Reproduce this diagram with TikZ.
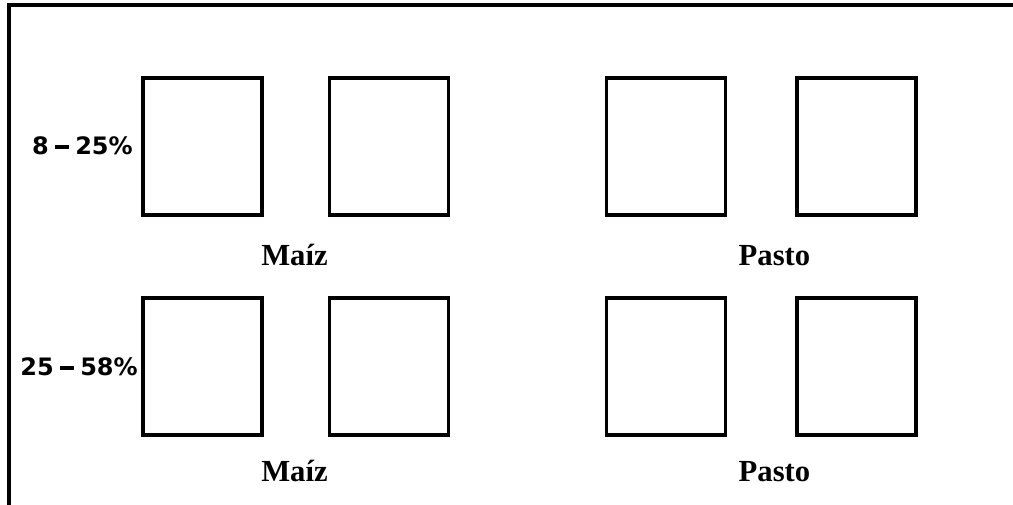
\documentclass[tikz,border=0pt]{standalone}
\usepackage{fontspec}
\newfontfamily\lblsans{DejaVu Sans}
\newfontfamily\lblserif{Liberation Serif}
\newcommand\pctdash{\hspace{4.4pt}\rule[4.4pt]{11pt}{2.8pt}\hspace{4.4pt}}
\begin{document}
\begin{tikzpicture}[x=0.75pt,y=-0.75pt,
  cell/.style={draw=black, line width=2.4pt, fill=white, inner sep=0pt,
    minimum width=89.25pt, minimum height=102.75pt},
  pct/.style={font=\lblsans\bfseries\fontsize{18pt}{21pt}\selectfont, inner sep=0pt, anchor=base east},
  crop/.style={font=\lblserif\bfseries\fontsize{23pt}{26pt}\selectfont, inner sep=0pt, anchor=base},
  frameline/.style={line width=3pt, line join=miter}]
\useasboundingbox (0,0) rectangle (1013,505);
\coordinate (fbl) at (9,506);
\coordinate (ftl) at (9,5);
\coordinate (ftr) at (1014,5);
\draw[frameline] (fbl) -- (ftl) -- (ftr);
% row 1
\node[cell] (a1) at (202.5,146.5) {};
\node[cell] (a2) at (389,146.5) {};
\node[cell] (a3) at (666,146.5) {};
\node[cell] (a4) at (856.5,146.5) {};
% row 2
\node[cell] (b1) at (202.5,366.5) {};
\node[cell] (b2) at (389,366.5) {};
\node[cell] (b3) at (666,366.5) {};
\node[cell] (b4) at (856.5,366.5) {};
% labels
\node[pct] (p1) at (133,155) {8\pctdash25\%};
\node[pct] (p2) at (138,375.5) {25\pctdash58\%};
\node[crop] (m1) at (294.5,266) {Maíz};
\node[crop] (s1) at (774.5,266) {Pasto};
\node[crop] (m2) at (294.5,481) {Maíz};
\node[crop] (s2) at (774.5,481) {Pasto};
\end{tikzpicture}
\end{document}
